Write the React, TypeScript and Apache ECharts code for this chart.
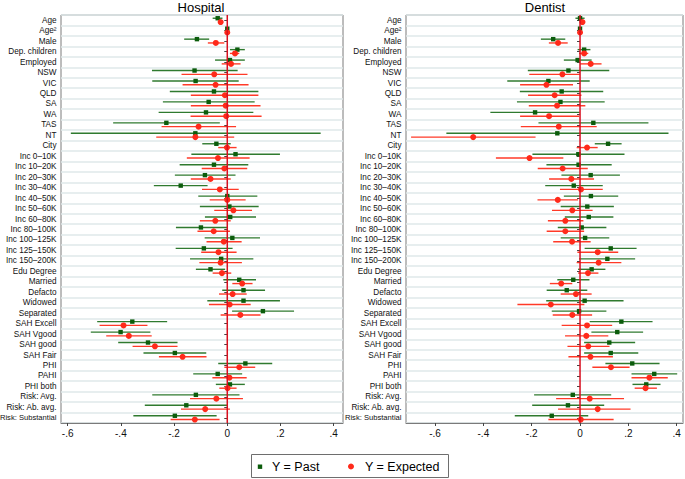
import React, { useEffect, useRef } from "react";
import * as echarts from "echarts";

const categories = [
  "Age", "Age²", "Male", "Dep. children", "Employed", "NSW", "VIC", "QLD", "SA", "WA", "TAS", "NT", "City",
  "Inc 0–10K", "Inc 10–20K", "Inc 20–30K", "Inc 30–40K", "Inc 40–50K", "Inc 50–60K", "Inc 60–80K",
  "Inc 80–100K", "Inc 100–125K", "Inc 125–150K", "Inc 150–200K", "Edu Degree", "Married", "Defacto",
  "Widowed", "Separated", "SAH Excell", "SAH Vgood", "SAH good", "SAH Fair", "PHI", "PAHI", "PHI both",
  "Risk: Avg.", "Risk: Ab. avg.", "Risk: Substantial",
];

const tickValues = [-0.6, -0.4, -0.2, 0, 0.2, 0.4];
const panelTitles = ["Hospital", "Dentist"];
const seriesNames = ["Y = Past", "Y = Expected"];

// [estimate, lower, upper]
const hospitalPast = [
  [-0.036, -0.055, -0.018], [0.0, -0.004, 0.004], [-0.114, -0.162, -0.068], [0.038, 0.01, 0.066],
  [0.01, -0.046, 0.066], [-0.123, -0.283, 0.039], [-0.119, -0.282, 0.043], [-0.05, -0.216, 0.117],
  [-0.07, -0.242, 0.103], [-0.08, -0.258, 0.098], [-0.229, -0.429, -0.028], [-0.12, -0.588, 0.351],
  [-0.041, -0.094, 0.013], [0.031, -0.135, 0.198], [-0.05, -0.179, 0.079], [-0.084, -0.197, 0.031],
  [-0.175, -0.276, -0.074], [0.0, -0.109, 0.113], [0.008, -0.103, 0.118], [0.011, -0.084, 0.108],
  [-0.099, -0.193, 0.0], [0.019, -0.085, 0.123], [-0.088, -0.194, 0.02], [-0.023, -0.14, 0.098],
  [-0.063, -0.118, -0.008], [0.045, -0.015, 0.108], [0.061, -0.019, 0.142], [0.061, -0.075, 0.198],
  [0.134, 0.018, 0.251], [-0.357, -0.489, -0.226], [-0.401, -0.513, -0.289], [-0.298, -0.41, -0.187],
  [-0.197, -0.315, -0.079], [0.068, -0.034, 0.169], [-0.036, -0.128, 0.056], [0.01, -0.043, 0.066],
  [-0.118, -0.282, 0.046], [-0.154, -0.31, 0.0], [-0.197, -0.353, -0.04],
];

const hospitalExpected = [
  [-0.025, -0.034, -0.015], [0.0, -0.004, 0.004], [-0.043, -0.073, -0.011], [0.029, 0.01, 0.045],
  [0.014, -0.021, 0.05], [-0.049, -0.172, 0.076], [-0.044, -0.168, 0.08], [-0.009, -0.137, 0.117],
  [-0.006, -0.137, 0.125], [-0.004, -0.138, 0.129], [-0.108, -0.247, 0.033], [-0.12, -0.267, 0.026],
  [-0.001, -0.034, 0.035], [-0.035, -0.152, 0.084], [-0.011, -0.096, 0.075], [-0.063, -0.137, 0.013],
  [-0.028, -0.095, 0.043], [0.0, -0.066, 0.069], [0.023, -0.049, 0.093], [-0.045, -0.103, 0.013],
  [-0.051, -0.112, 0.01], [-0.013, -0.078, 0.054], [-0.033, -0.098, 0.035], [-0.025, -0.105, 0.055],
  [-0.02, -0.055, 0.015], [0.056, 0.019, 0.095], [0.02, -0.031, 0.073], [0.009, -0.069, 0.088],
  [0.049, -0.025, 0.125], [-0.39, -0.48, -0.3], [-0.37, -0.455, -0.284], [-0.272, -0.356, -0.187],
  [-0.168, -0.257, -0.078], [0.045, -0.011, 0.105], [0.008, -0.056, 0.073], [0.001, -0.03, 0.035],
  [-0.041, -0.14, 0.059], [-0.083, -0.174, 0.01], [-0.122, -0.213, -0.029],
];

const dentistPast = [
  [0.0, -0.019, 0.019], [0.0, -0.004, 0.004], [-0.111, -0.162, -0.061], [0.017, -0.01, 0.043],
  [-0.01, -0.067, 0.048], [-0.048, -0.216, 0.121], [-0.131, -0.301, 0.04], [-0.076, -0.249, 0.096],
  [-0.081, -0.261, 0.102], [-0.186, -0.371, -0.001], [0.055, -0.172, 0.283], [-0.094, -0.553, 0.366],
  [0.116, 0.061, 0.172], [-0.007, -0.197, 0.184], [-0.006, -0.139, 0.131], [0.044, -0.077, 0.165],
  [-0.026, -0.144, 0.094], [0.045, -0.067, 0.158], [0.03, -0.08, 0.14], [0.036, -0.063, 0.138],
  [0.007, -0.092, 0.109], [0.021, -0.08, 0.121], [0.127, 0.019, 0.234], [0.113, -0.004, 0.228],
  [0.048, -0.008, 0.105], [-0.028, -0.094, 0.039], [-0.055, -0.138, 0.03], [0.019, -0.14, 0.18],
  [-0.004, -0.117, 0.109], [0.171, 0.04, 0.3], [0.154, 0.047, 0.261], [0.121, 0.017, 0.228],
  [0.127, 0.017, 0.241], [0.216, 0.105, 0.329], [0.307, 0.213, 0.402], [0.274, 0.217, 0.333],
  [-0.03, -0.19, 0.129], [-0.05, -0.198, 0.1], [-0.117, -0.27, 0.034],
];

const dentistExpected = [
  [0.01, -0.001, 0.021], [0.0, -0.004, 0.004], [-0.091, -0.129, -0.051], [0.017, -0.004, 0.034],
  [0.044, 0.001, 0.089], [-0.073, -0.21, -0.001], [-0.139, -0.248, -0.029], [-0.105, -0.215, 0.006],
  [-0.095, -0.212, 0.022], [-0.128, -0.248, -0.004], [-0.088, -0.245, 0.069], [-0.442, -0.699, -0.184],
  [0.029, -0.014, 0.073], [-0.209, -0.348, -0.069], [-0.072, -0.175, 0.032], [-0.036, -0.128, 0.058],
  [0.004, -0.083, 0.094], [-0.092, -0.176, -0.008], [-0.032, -0.116, 0.052], [-0.061, -0.133, 0.014],
  [-0.061, -0.138, 0.017], [-0.033, -0.111, 0.044], [0.073, -0.011, 0.158], [0.077, -0.014, 0.171],
  [0.033, -0.008, 0.076], [-0.078, -0.125, -0.032], [-0.017, -0.08, 0.048], [-0.121, -0.259, 0.018],
  [-0.032, -0.113, 0.05], [0.029, -0.076, 0.133], [0.026, -0.062, 0.117], [0.034, -0.052, 0.122],
  [0.043, -0.048, 0.136], [0.128, 0.051, 0.205], [0.287, 0.213, 0.363], [0.271, 0.226, 0.318],
  [0.04, -0.099, 0.182], [0.073, -0.091, 0.209], [0.003, -0.131, 0.139],
];

const SANS = "'Liberation Sans', Arial, sans-serif";

const GREEN_LINE = "#2f7a2f";
const GREEN_MARK = "#0b5c0b";
const RED_LINE = "#ff3a28";
const RED_MARK = "#ff2a1a";

function fmtTick(v: number) {
  if (Math.abs(v) < 1e-9) return "0";
  const s = Math.abs(v).toFixed(1).replace(/^0/, "");
  return (v < 0 ? "-" : "") + s;
}

function fmtCat(v: string) {
  return v.length > 14 ? "{s|" + v + "}" : v;
}

function makeSeries(name: string, rows: number[][], gridIndex: number, kind: "past" | "exp") {
  const dy = kind === "past" ? -2 : 1.8;
  const lineColor = kind === "past" ? GREEN_LINE : RED_LINE;
  const markColor = kind === "past" ? GREEN_MARK : RED_MARK;
  return {
    name,
    type: "custom",
    xAxisIndex: gridIndex,
    yAxisIndex: gridIndex,
    z: kind === "past" ? 3 : 4,
    data: rows.map((r, i) => [r[0], r[1], r[2], i]),
    encode: { x: [0, 1, 2], y: 3 },
    renderItem: (params: any, api: any) => {
      const c = api.value(3);
      const p = api.coord([api.value(0), c]);
      const lo = api.coord([api.value(1), c]);
      const hi = api.coord([api.value(2), c]);
      const y = p[1] + dy;
      const mark =
        kind === "past"
          ? { type: "rect", shape: { x: p[0] - 2.2, y: y - 2.2, width: 4.4, height: 4.4 }, style: { fill: markColor } }
          : { type: "circle", shape: { cx: p[0], cy: y, r: 3 }, style: { fill: markColor } };
      return {
        type: "group",
        children: [
          { type: "line", shape: { x1: lo[0], y1: y, x2: hi[0], y2: y }, style: { stroke: lineColor, lineWidth: 1.4 } },
          mark,
        ],
      };
    },
  };
}

function zeroLine(gridIndex: number) {
  return {
    type: "custom",
    xAxisIndex: gridIndex,
    yAxisIndex: gridIndex,
    z: 5,
    silent: true,
    data: [[0, 0]],
    encode: { x: 0, y: 1 },
    renderItem: (params: any, api: any) => {
      const cs = params.coordSys;
      const p = api.coord([api.value(0), 0]);
      return {
        type: "line",
        shape: { x1: p[0], y1: cs.y, x2: p[0], y2: cs.y + cs.height },
        style: { stroke: "#d80f1f", lineWidth: 1.5 },
      };
    },
  };
}

export default function App() {
  const ref = useRef<HTMLDivElement>(null);
  useEffect(() => {
    document.body.style.margin = "0";
    if (!ref.current) return;
    const chart = echarts.init(ref.current, undefined, { renderer: "svg" });
    const grids = [
      { left: 61, right: 342, top: 15, bottom: 56 },
      { left: 406, right: 2, top: 15, bottom: 56 },
    ];
    const xRanges = [
      [-0.625, 0.435],
      [-0.72, 0.426],
    ];
    const option: any = {
      animation: false,
      backgroundColor: "#fff",
      grid: grids.map((g) => ({
        ...g,
        show: true,
        containLabel: false,
        outerBoundsMode: "none",
        borderColor: "#7a7a7a",
        borderWidth: 1,
        backgroundColor: "#fff",
      })),
      xAxis: xRanges.map((r, i) => ({
        type: "value",
        gridIndex: i,
        min: r[0],
        max: r[1],
        splitLine: { show: false },
        axisLine: { show: true, lineStyle: { color: "#7a7a7a" } },
        axisTick: { show: true, length: 3, lineStyle: { color: "#444" }, customValues: tickValues },
        axisLabel: {
          show: true,
          customValues: tickValues,
          formatter: fmtTick,
          fontSize: 10,
          fontFamily: SANS,
          color: "#111",
          margin: 5,
        },
      })),
      yAxis: [0, 1].map((i) => ({
        type: "category",
        gridIndex: i,
        data: categories,
        inverse: true,
        boundaryGap: true,
        axisLine: { show: false },
        axisTick: { show: true, length: 3, alignWithLabel: true, lineStyle: { color: "#444" } },
        axisLabel: {
          fontSize: 8.2,
          fontFamily: SANS,
          color: "#111",
          margin: 4.5,
          interval: 0,
          formatter: fmtCat,
          rich: { s: { fontSize: 7.6, fontFamily: SANS, color: "#111" } },
        },
        splitLine: { show: true, lineStyle: { color: "#dfe8ea", width: 1.5 } },
      })),
      series: [
        makeSeries(seriesNames[0], hospitalPast, 0, "past"),
        makeSeries(seriesNames[1], hospitalExpected, 0, "exp"),
        zeroLine(0),
        makeSeries(seriesNames[0], dentistPast, 1, "past"),
        makeSeries(seriesNames[1], dentistExpected, 1, "exp"),
        zeroLine(1),
      ],
      graphic: [
        {
          type: "text",
          x: 201,
          y: 7,
          style: { text: panelTitles[0], fontSize: 13, fontFamily: SANS, fill: "#000", align: "center", verticalAlign: "middle" },
        },
        {
          type: "text",
          x: 545,
          y: 7,
          style: { text: panelTitles[1], fontSize: 13, fontFamily: SANS, fill: "#000", align: "center", verticalAlign: "middle" },
        },
        {
          type: "rect",
          shape: { x: 251.5, y: 454.5, width: 197, height: 23 },
          style: { fill: "#fff", stroke: "#6e6e6e", lineWidth: 1 },
        },
        { type: "rect", shape: { x: 257.8, y: 464.5, width: 4.4, height: 4.4 }, style: { fill: GREEN_MARK } },
        {
          type: "text",
          x: 272,
          y: 466.5,
          style: { text: seriesNames[0], fontSize: 12.5, fontFamily: SANS, fill: "#000", verticalAlign: "middle" },
        },
        { type: "circle", shape: { cx: 351, cy: 466.5, r: 3 }, style: { fill: RED_MARK } },
        {
          type: "text",
          x: 365,
          y: 466.5,
          style: { text: seriesNames[1], fontSize: 12.5, fontFamily: SANS, fill: "#000", verticalAlign: "middle" },
        },
      ],
    };
    chart.setOption(option);
    return () => chart.dispose();
  }, []);
  return <div ref={ref} style={{ width: 685, height: 479 }} />;
}
